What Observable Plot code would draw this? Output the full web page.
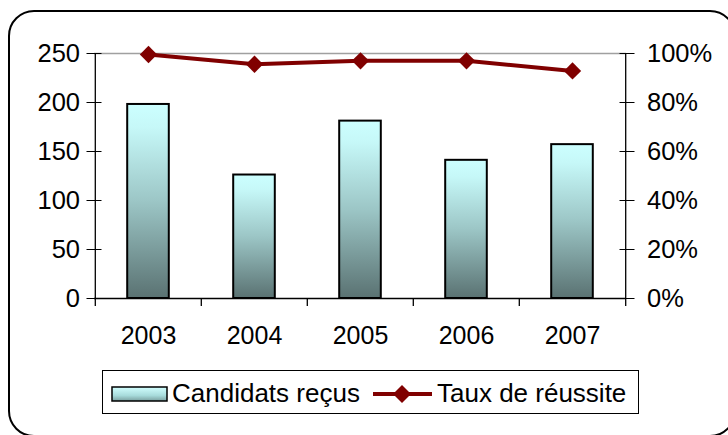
<!DOCTYPE html>
<html><head><meta charset="utf-8">
<script src="https://cdn.jsdelivr.net/npm/d3@7"></script>
<script src="https://cdn.jsdelivr.net/npm/@observablehq/plot@0.6"></script>
<style>
html,body{margin:0;padding:0;background:#fff;}
#wrap{position:relative;width:728px;height:435px;overflow:hidden;background:#fff;font-family:"Liberation Sans",Arial,sans-serif;}
#frame{position:absolute;left:8px;top:10px;width:728px;height:427px;border:2px solid #000;border-radius:26px;box-sizing:border-box;}
#chart{position:absolute;left:0;top:0;}
#legend{position:absolute;left:102px;top:370px;width:537px;height:44px;border:1.5px solid #000;box-sizing:border-box;background:#fff;}
#legend svg{position:absolute;left:-1.5px;top:-1.5px;}
</style></head><body>
<div id="wrap"><div id="frame"></div><div id="chart"></div><div id="legend"></div></div>
<script>
const years = ["2003","2004","2005","2006","2007"];
const candidats = [198, 126, 181, 141, 157];
const taux = [99.6, 95.6, 97.0, 97.0, 92.9];
const leftTicks = [0, 50, 100, 150, 200, 250];
const rightTickLabels = ["0%", "20%", "40%", "60%", "80%", "100%"];
const seriesNames = ["Candidats reçus", "Taux de réussite"];

const data = years.map((year, i) => ({year, candidats: candidats[i], taux: taux[i]}));
const yMax = 250;
const rateToY = d => d.taux / 100 * yMax;

const W = 728, H = 360, mL = 94, mR = 102, mT = 53, mB = 62;
const step = (W - mL - mR) / years.length;
const barW = 42;
const inset = (step - barW) / 2;
const font = '"Liberation Sans", Arial, sans-serif';
const darkRed = "#800000";
const tickDown = 8.2; // in y units (~8px)

const svg = Plot.plot({
  width: W, height: H,
  marginLeft: mL, marginRight: mR, marginTop: mT, marginBottom: mB,
  style: {fontFamily: font, fontSize: "25px", color: "#000", background: "transparent"},
  x: {type: "band", domain: years, padding: 0},
  y: {domain: [0, yMax]},
  marks: [
    Plot.ruleY([yMax], {stroke: "#a0a0a0", strokeWidth: 1.5}),
    Plot.barY(data, {x: "year", y: "candidats", fill: "url(#barGrad)", stroke: "#000", strokeWidth: 2, insetLeft: inset, insetRight: inset}),
    Plot.ruleY([0], {stroke: "#000", strokeWidth: 1.3}),
    Plot.ruleX(years, {x: d => d, dx: -step / 2, y1: -tickDown, y2: (d, i) => i === 0 ? yMax : 0, stroke: "#000", strokeWidth: 1.3}),
    Plot.ruleX([years[years.length - 1]], {x: d => d, dx: step / 2, y1: -tickDown, y2: yMax, stroke: "#000", strokeWidth: 1.3}),
    Plot.axisY({anchor: "left", ticks: leftTicks, tickSize: 15, dx: 7.5, tickPadding: 7, label: null, fontSize: 25.5, stroke: "#000"}),
    Plot.axisY({anchor: "right", ticks: leftTicks, tickFormat: (d, i) => rightTickLabels[leftTicks.indexOf(d)], tickSize: 15, dx: -7.5, tickPadding: 13, label: null, fontSize: 25.5, stroke: "#000"}),
    Plot.axisX({tickSize: 0, tickPadding: 28, label: null, fontSize: 25}),
    Plot.line(data, {x: "year", y: rateToY, stroke: darkRed, strokeWidth: 4}),
    Plot.dot(data, {x: "year", y: rateToY, symbol: "diamond2", r: 7.8, fill: darkRed, stroke: "none"})
  ]
});

const ns = "http://www.w3.org/2000/svg";
const defs = document.createElementNS(ns, "defs");
defs.innerHTML = '<linearGradient id="barGrad" x1="0" y1="0" x2="0" y2="1">' +
  '<stop offset="0" stop-color="#ccffff"/><stop offset="0.12" stop-color="#c6f8f8"/>' +
  '<stop offset="0.5" stop-color="#9cc6c6"/><stop offset="1" stop-color="#5a7272"/></linearGradient>' +
  '<linearGradient id="legGrad" x1="0" y1="0" x2="0" y2="1">' +
  '<stop offset="0" stop-color="#d2ffff"/><stop offset="0.6" stop-color="#a8dcdc"/><stop offset="1" stop-color="#7aa0a0"/></linearGradient>';
svg.insertBefore(defs, svg.firstChild);
document.getElementById("chart").appendChild(svg);

// legend
const leg = d3.select("#legend").append("svg").attr("width", 537).attr("height", 44)
  .style("font-family", font).style("font-size", "26px");
leg.append("rect").attr("x", 10).attr("y", 17).attr("width", 55).attr("height", 14)
  .attr("fill", "url(#legGrad)").attr("stroke", "#000").attr("stroke-width", 1.5);
leg.append("text").attr("x", 70).attr("y", 31.5).text(seriesNames[0]);
leg.append("line").attr("x1", 271).attr("x2", 330).attr("y1", 24).attr("y2", 24)
  .attr("stroke", darkRed).attr("stroke-width", 4);
leg.append("path").attr("d", d3.symbol(d3.symbolDiamond2, 2 * 9 * 9 / (0.62625 * 0.62625) / 2)())
  .attr("transform", "translate(300,24)").attr("fill", darkRed);
leg.append("text").attr("x", 335).attr("y", 31.5).text(seriesNames[1]);
</script>
</body></html>
